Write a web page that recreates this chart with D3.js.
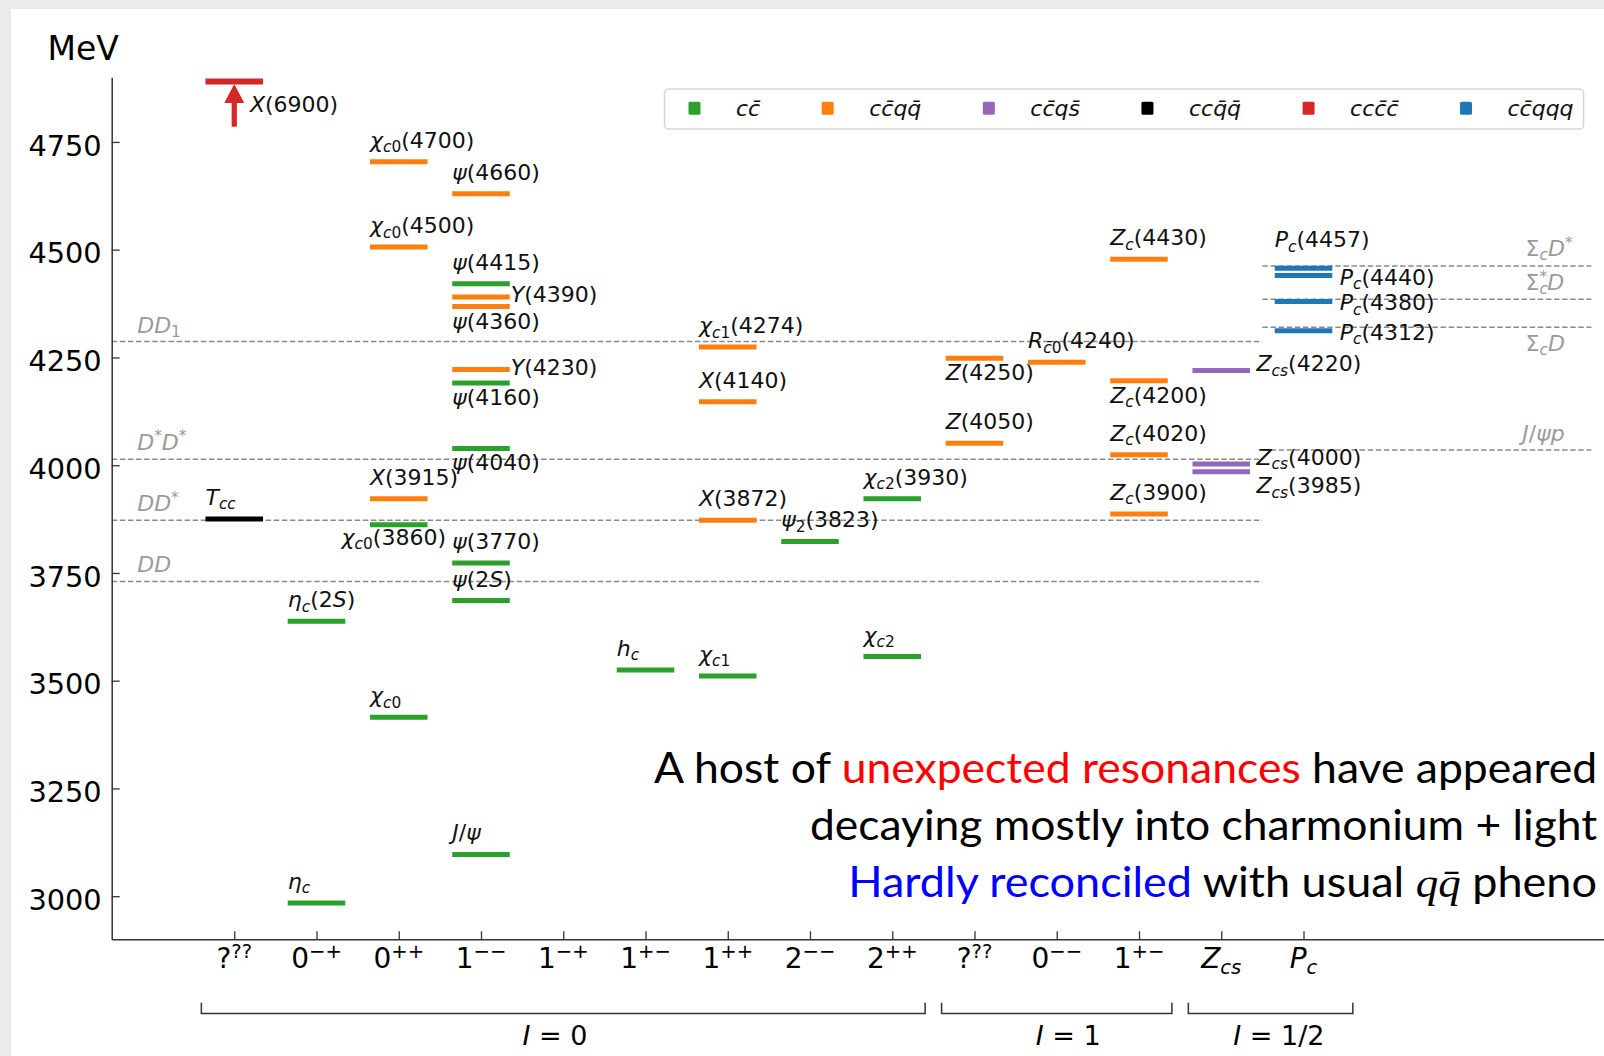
<!DOCTYPE html>
<html><head><meta charset="utf-8">
<script src="https://cdn.jsdelivr.net/npm/d3@7"></script>
<style>html,body{margin:0;padding:0;background:#ececec;} svg{display:block;}</style>
</head><body>
<svg id="c" width="1604" height="1056"></svg>
<script>
// ---------------- DATA ----------------
const categories = ["?^{??}","0^{−+}","0^{++}","1^{−−}","1^{−+}","1^{+−}","1^{++}","2^{−−}","2^{++}","?^{??}","0^{−−}","1^{+−}","Z_{cs}","P_c"];
const yTicks = [3000,3250,3500,3750,4000,4250,4500,4750];
const speciesNames = ["cc̄","cc̄qq̄","cc̄qs̄","ccq̄q̄","ccc̄c̄","cc̄qqq"];
const speciesColors = ["#2ca02c","#ff7f0e","#9467bd","#000000","#d62728","#1f77b4"];

const stateNames = [
 "X(6900)","T_{cc}",
 "η_c","η_c(2S)",
 "χ_{c0}","χ_{c0}(3860)","X(3915)","χ_{c0}(4500)","χ_{c0}(4700)",
 "J/ψ","ψ(2S)","ψ(3770)","ψ(4040)","ψ(4160)","Y(4230)","ψ(4360)","Y(4390)","ψ(4415)","ψ(4660)",
 "h_c",
 "χ_{c1}","X(3872)","X(4140)","χ_{c1}(4274)",
 "ψ_2(3823)",
 "χ_{c2}","χ_{c2}(3930)",
 "Z(4050)","Z(4250)",
 "R_{c̄0}(4240)",
 "Z_c(3900)","Z_c(4020)","Z_c(4200)","Z_c(4430)",
 "Z_{cs}(3985)","Z_{cs}(4000)","Z_{cs}(4220)",
 "P_c(4312)","P_c(4380)","P_c(4440)","P_c(4457)"
];
const stateMass = [6900,3875, 2984,3638, 3415,3862,3922,4506,4704,
  3097,3686,3773,4039,4191,4222,4368,4390,4421,4630, 3525, 3511,3872,4147,4274, 3823,
  3556,3922, 4051,4248, 4239, 3887,4024,4196,4478, 3985,4003,4220, 4312,4380,4440,4457];
const stateCat = [0,0, 1,1, 2,2,2,2,2, 3,3,3,3,3,3,3,3,3,3, 5, 6,6,6,6, 7, 8,8, 9,9, 10, 11,11,11,11, 12,12,12, 13,13,13,13];
const stateSpecies = [4,3, 0,0, 0,0,1,1,1, 0,0,0,0,0,1,1,1,0,1, 0, 0,1,1,1, 0, 0,0, 1,1, 1, 1,1,1,1, 2,2,2, 5,5,5,5];

const thresholdNames = ["DD","DD^*","D^*D^*","DD_1","J/ψp","Σ_cD","Σ_c^*D","Σ_cD^*"];
const thresholdMass = [3730,3872,4014,4287,4035,4320,4385,4462];
const thresholdGroup = [0,0,0,0,1,1,1,1];

const isospinNames = ["I = 0","I = 1","I = 1/2"];

const noteLines = [
  [["A host of ","#000"],["unexpected resonances","#ff0000"],[" have appeared","#000"]],
  [["decaying mostly into charmonium + light","#000"]],
  [["Hardly reconciled","#0000ff"],[" with usual ","#000"],["qq̄","#000","math"],[" pheno","#000"]]
];

// ---------------- LAYOUT ----------------
const labelPlace = ["arrow","above", "above","above", "above","belowc","above","above","above",
  "above","above","above","below","below","rightY","below","rightY","above","above", "above",
  "above","above","above","above", "above", "above","above", "above","below", "above",
  "above","above","below","above", "rightZb","rightZ","rightZ", "rightP","rightP","rightP","abovehigh"];
const placeCfg = {
  above:{ref:"left",dx:0,dy:-14}, abovehigh:{ref:"left",dx:0,dy:-21},
  below:{ref:"left",dx:0,dy:22}, belowc:{ref:"center",dx:-5,dy:20,anchor:"middle"},
  rightY:{ref:"right",dx:1,dy:5}, rightZ:{ref:"right",dx:6.5,dy:1}, rightZb:{ref:"right",dx:6.5,dy:21.6},
  rightP:{ref:"right",dx:7.5,dy:9}, arrow:{ref:"center",dx:15.7,dy:30}
};
const thresholdSpan = [[-1.49,12.5],[12.5,16.5]];
const thresholdLabelX = [-1.18,-1.18,-1.18,-1.18,15.66,15.7,15.7,15.7];
const thresholdLabelDy = [-10,-9,-9.5,-9,-9.3,23.7,-9.3,-10];
const bracketSpan = [[-0.4,8.4],[8.6,11.4],[11.6,13.6]];
const bracketLabelX = [3.9,10.14,12.7];

const W=1604,H=1056;
const svg=d3.select('#c');
svg.append('rect').attr('width',W).attr('height',H).attr('fill','#ebebeb');
svg.append('rect').attr('x',11).attr('y',9).attr('width',W-11).attr('height',H-9).attr('fill','#fff');

const FONT="'DejaVu Sans', sans-serif";
const x=d3.scaleLinear().domain([-1.49,16.7]).range([111.7,111.7+18.19*82.25]);
const y=d3.scaleLinear().domain([2900,4900]).range([939.3,77.3]);
const bw = x(0.7)-x(0);

function renderMath(t, str, fs){
  const segs=[]; let i=0;
  while(i<str.length){
    const c=str[i];
    if(c==='_'||c==='^'){
      const lvl=c==='_'?'sub':'sup'; i++;
      let g;
      if(str[i]==='{'){const j=str.indexOf('}',i); g=str.slice(i+1,j); i=j+1;}
      else {g=str[i]; i++; if(str[i]==='\u0304'){g+=str[i]; i++;}}
      segs.push({text:g,level:lvl});
    } else {segs.push({text:c,level:'base'}); i++;}
  }
  const chars=[];
  segs.forEach(s=>{ for(const ch of s.text){
    if(ch==='\u0304' && chars.length){chars[chars.length-1].ch+=ch; continue;}
    chars.push({ch, level:s.level, it:/[A-Za-zα-ω]/.test(ch)});
  }});
  const runs=[];
  chars.forEach(c=>{const l=runs[runs.length-1];
    if(l && l.level===c.level && l.it===c.it) l.text+=c.ch; else runs.push({text:c.ch,level:c.level,it:c.it});});
  const off={base:0, sub:0.2*fs, sup:-0.38*fs};
  let cur=0, prev='base', lastSub=null;
  runs.forEach(r=>{
    const ts=t.append('tspan').text(r.text)
      .attr('font-style', r.it?'italic':'normal')
      .attr('font-size', r.level==='base'?fs:fs*0.7);
    const dy=off[r.level]-cur; if(Math.abs(dy)>1e-6) ts.attr('dy',dy);
    cur=off[r.level];
    if(r.level==='sup' && prev==='sub' && lastSub){ ts.attr('dx', -lastSub.getComputedTextLength()); }
    if(r.level==='sub') lastSub=ts.node(); else if(r.level==='base') lastSub=null;
    prev=r.level;
  });
  return t;
}

// threshold dashed lines
const thr=svg.append('g');
thresholdMass.forEach((m,i)=>{
  const sp=thresholdSpan[thresholdGroup[i]];
  thr.append('line').attr('x1',x(sp[0])).attr('x2',x(sp[1])).attr('y1',y(m)).attr('y2',y(m))
    .attr('stroke','#8a8a8a').attr('stroke-width',1.5).attr('stroke-dasharray','5.5,2.6');
  const t=thr.append('text').attr('x',x(thresholdLabelX[i])).attr('y',y(m)+thresholdLabelDy[i])
    .attr('font-family',FONT).attr('font-size',22).attr('fill','#9a9a9a');
  renderMath(t,thresholdNames[i],22);
});

// axes
const yAxis=svg.append('g').attr('transform','translate(111.7,0)')
  .call(d3.axisLeft(y).tickValues(yTicks).tickSizeInner(-8).tickSizeOuter(0).tickPadding(10).tickFormat(d3.format('d')));
yAxis.attr('color','#333');
yAxis.select('.domain').attr('stroke-width',1.5);
yAxis.selectAll('.tick line').attr('stroke-width',1.3);
yAxis.selectAll('text').attr('font-family',FONT).attr('font-size',28.8).attr('fill','#000').attr('dy','0.46em');

const xAxis=svg.append('g').attr('transform','translate(0,939.3)')
  .call(d3.axisBottom(x).tickValues(d3.range(categories.length)).tickSizeInner(-8).tickSizeOuter(0).tickFormat(''));
xAxis.attr('color','#333');
xAxis.select('.domain').attr('stroke-width',1.5);
xAxis.selectAll('.tick line').attr('stroke-width',1.3);
categories.forEach((c,i)=>{
  const t=svg.append('text').attr('x',x(i)).attr('y',968.3).attr('text-anchor','middle')
    .attr('font-family',FONT).attr('font-size',28).attr('fill','#000');
  renderMath(t,c,28);
});
svg.append('text').attr('x',47.5).attr('y',60).attr('font-family',FONT).attr('font-size',33).attr('fill','#000').text('MeV');

// brackets
bracketSpan.forEach((b,i)=>{
  svg.append('path').attr('d',`M${x(b[0])},1002.7V1013.5H${x(b[1])}V1002.7`)
    .attr('fill','none').attr('stroke','#333').attr('stroke-width',1.5);
  const t=svg.append('text').attr('x',x(bracketLabelX[i])).attr('y',1045).attr('text-anchor','middle')
    .attr('font-family',FONT).attr('font-size',27).attr('fill','#000');
  renderMath(t,isospinNames[i],27);
});

// states
const yMax=y.domain()[1];
const g=svg.append('g');
stateNames.forEach((n,i)=>{
  const cx=x(stateCat[i]);
  const col=speciesColors[stateSpecies[i]];
  const off=stateMass[i]>yMax;
  const yy= off ? y(yMax-10) : y(stateMass[i]);
  g.append('line').attr('x1',cx-bw/2).attr('x2',cx+bw/2).attr('y1',yy).attr('y2',yy)
    .attr('stroke',col).attr('stroke-width',off?6:5);
  if(off){
    const bot=y(4785), tip=yy+2.5, hb=tip+19;
    g.append('path').attr('d',`M${cx-2.6},${bot}V${hb}H${cx-10}L${cx},${tip}L${cx+10},${hb}H${cx+2.6}V${bot}Z`).attr('fill',col);
  }
  const p=placeCfg[labelPlace[i]];
  const bx = p.ref==='left'?cx-bw/2 : p.ref==='right'?cx+bw/2 : cx;
  const t=g.append('text').attr('x',bx+p.dx).attr('y',yy+p.dy).attr('text-anchor',p.anchor||'start')
    .attr('font-family',FONT).attr('font-size',22).attr('fill','#111');
  renderMath(t,n,22);
});

// legend
const lg=svg.append('g');
const box=lg.append('rect').attr('x',664.5).attr('y',89).attr('height',40).attr('rx',4)
  .attr('fill','#fff').attr('stroke','#d6d6d6').attr('stroke-width',1.5);
let mx=688.5;
speciesNames.forEach((n,i)=>{
  lg.append('rect').attr('x',mx).attr('y',101.8).attr('width',12).attr('height',13).attr('rx',1.5).attr('fill',speciesColors[i]);
  const t=lg.append('text').attr('x',mx+47.5).attr('y',115.5).attr('font-family',FONT).attr('font-size',22).attr('fill','#111');
  renderMath(t,n,22);
  const w=t.node().getComputedTextLength();
  mx=mx+47.5+w+61.5;
  box.attr('width',(mx-61.5+10)-664.5);
});

// annotation
const lineBox=[[654,1597.3,783.3],[810,1597.3,840],[848.3,1597.3,896.7]];
noteLines.forEach((parts,k)=>{
  const t=svg.append('text').attr('font-family',"Lato, 'Open Sans', sans-serif").attr('font-size',42).attr('x',0).attr('y',0);
  parts.forEach(pp=>{
    const ts=t.append('tspan').text(pp[0]).attr('fill',pp[1]);
    if(pp[2]==='math') ts.attr('font-family',"'Liberation Serif', serif").attr('font-style','italic');
  });
  t.attr('xml:space','preserve').style('white-space','pre');
  const bb=t.node().getBBox();
  const [l,r,b]=lineBox[k];
  const sx=(r-l)/bb.width;
  t.attr('transform',`translate(${l-bb.x*sx},${b}) scale(${sx},1)`);
});
</script>
</body></html>
